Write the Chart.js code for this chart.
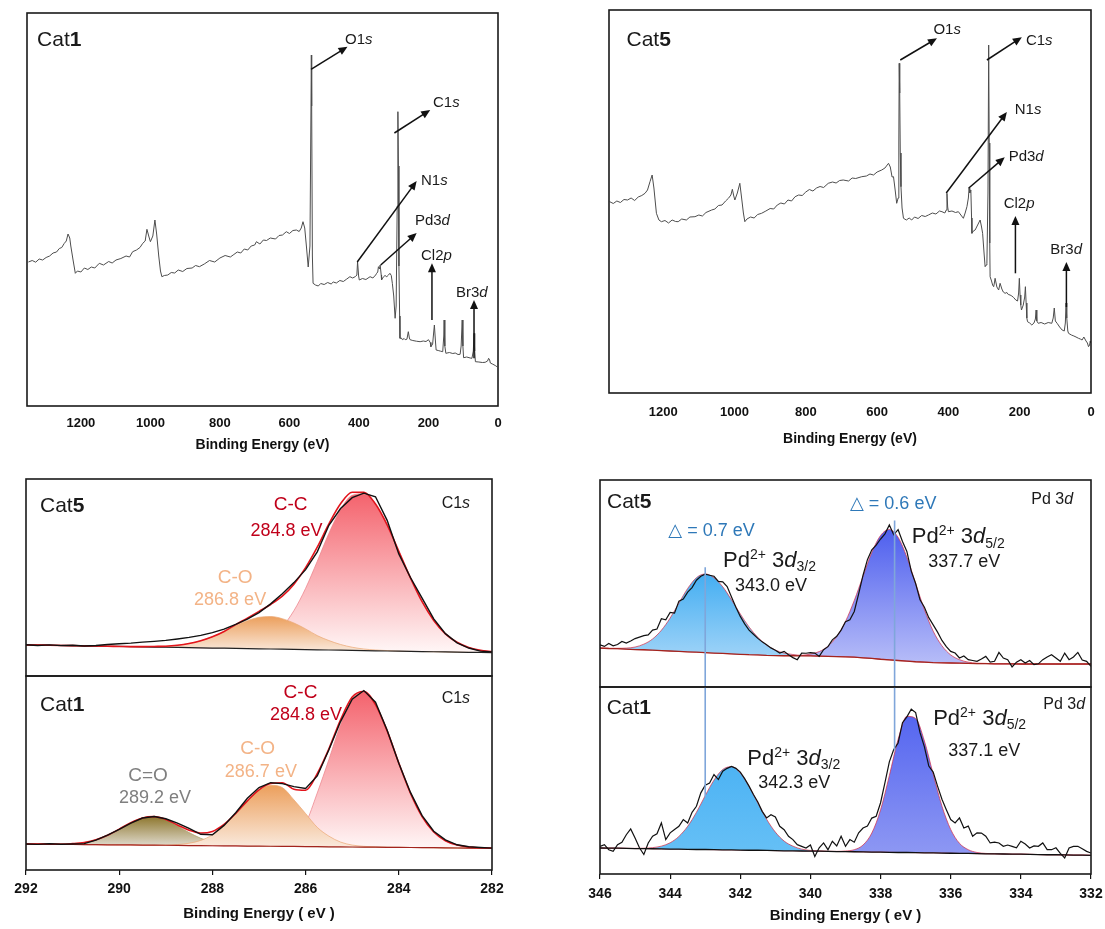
<!DOCTYPE html>
<html>
<head>
<meta charset="utf-8">
<script src="https://cdn.jsdelivr.net/npm/chart.js@4.4.1/dist/chart.umd.min.js"></script>
<style>
  html, body { margin: 0; padding: 0; background: #fff; }
  #page { position: relative; width: 1105px; height: 929px; overflow: hidden; background: #fff; }
  #page canvas { position: absolute; }
</style>
</head>
<body>
<div id="page"></div>
<script>
// ---- survey spectra (binding energy in eV, intensity in arbitrary units) ----
const surveyE1 = [1351,1340,1330,1320,1310,1300,1290,1280,1270,1262,
  1255,1248,1242,1237,1232,1229,1222,1216,1210,1200,
  1190,1180,1170,1160,1147,1135,1120,1110,1099,1085,
  1070,1060,1051,1040,1030,1022,1015,1010,1004,1000,
  993,987,982,976,971,967,960,950,940,930,
  920,907,895,880,870,859,845,830,815,800,
  785,770,762,750,740,730,720,710,700,695,
  685,675,666,655,640,630,620,609,600,590,
  580,572,566,561,556,551,546,541,538,537,
  536,534,532,525,517,510,500,490,480,474,
  465,455,445,435,426,418,410,406,404,401,
  399,390,380,368,360,352,349,346,344,341,
  339,336,335,330,325,320,315,311,307,304,
  300,296,293,290,288,286.5,285,283,282,278,
  275,270,267,262,258,255,253,245,235,224,
  215,207,200,195,193,188,186,183,180,178,
  172,165,159,156,155,153,150,140,130,123,
  115,109,106,103,101,99,90,80,75,71,
  69,67,65,55,45,37,30,27,24,22,
  15,8,3];
const surveyI1 = [144,145.5,143.8,147,146,148.5,150,153,154,157.5,
  158.5,162.5,165,172,168,160,145,132.7,135,134,
  138,136.5,139,138,142.7,141,144.5,143,146,147.5,
  150,149,154.3,156,158.5,162.7,165,176.7,169,164.3,
  170,186,172,150,135,129.3,130.5,131,133.5,133,
  136,134.5,137.5,138,140.5,139.3,142,145.5,144,148,
  150.5,149,151,154,153,157,156,160,161,164.3,
  162,166,165.5,168,167,170.5,171,174.3,172.5,175.5,
  176,174.5,178,184.3,178,159,139,160,300,351,
  300,150,122.7,121,120,122.5,121.5,123.5,122,124,
  123,125.5,124.5,127,129.3,128,129.5,131,144.3,130,
  126,127.5,126.5,129.3,128,131,132.7,134,139.3,137,
  141,131,126,129,130.5,129.3,131,132.7,130.5,122.7,
  110,87.7,100,200,294.3,240,140,90,67.7,68,
  66.3,67.5,66.3,66.8,74.3,68,66.3,65.5,64.8,64.3,
  65,64.5,66.3,63.5,59.3,62,70,81,65,56,
  55.5,54.8,54.3,70,86,60,52.7,53.5,52.5,53,
  51.5,51.7,60,86,60,48.3,49,48,47.7,55,
  72.7,55,44.3,44,43.5,43.7,45,47.7,46,43,
  41.8,40.5,39.3];

const surveyE5 = [1350,1340,1330,1320,1310,1300,1290,1280,1270,1260,
  1251,1244,1237,1231,1226,1219,1212,1205,1195,1185,
  1175,1165,1158,1148,1135,1125,1111,1100,1090,1080,
  1064,1055,1045,1035,1025,1017,1010,1006,1002,999,
  992,985,980,975,971,965,955,945,935,924,
  912,900,890,880,870,860,850,840,830,820,
  810,800,790,780,770,760,750,737,725,715,
  705,695,680,670,660,643,630,620,610,600,
  587,578,568,563,558,554,550,545,541,539,
  538,536.5,535,533,530,526,518,510,503,495,
  485,475,465,456,445,435,425,418,410,406,
  404,402,400,390,380,372,365,358,353,348,
  344,342,340,337,335,334,330,325,318,311,
  307,304,300,297,294,292,289,287,285.5,284,
  283,279,276,273,271,269,264,259,255,250,
  246,241,236,232,227,222,217,211,206,203,
  201,199,197,195,190,186,184,182,180,178,
  172,166,160,156,154,152,148,140,130,120,
  110,106,103,100,95,88,81,75,72,70,
  68,65,63,55,48,42,35,30,25,20,
  17,14,10,7,4,2,1];
const surveyI5 = [191.3,189.5,192,190.5,193.5,193,195,192.5,196,197.5,
  199.7,203,211.3,218,205,179.7,173,171.3,172.5,170,
  173,171.5,171.3,174,173,176,176.3,178,177,180.5,
  183,184,187.5,188,192,194.7,198,203.7,197,193,
  200,209.7,195,180,171.3,174,176,175,178.5,179.7,
  182,184.5,184,188,190,189,193,192,196.3,198,
  197.5,201,203.5,202,205,206.5,205.5,209.7,211,210,
  212.5,213,212,215,214.5,216.3,217,219,218,221,
  223,225,229.7,226,216,216.3,205,189.7,195,250,
  329.7,300,240,206.3,185,174.7,173,175,173,176,
  174.5,177.5,176.5,178,180,179,182,181.3,180,183,
  199.7,186,181.3,182,180.5,181.3,178,174.7,180,186.3,
  195,204.7,200,203,175,159.7,162,163,168,173,
  166,159.7,140,126.3,128,129.7,200,348,250,150,
  116.3,112,108,106.3,110,114.7,106,103,109.7,104,
  101,99.7,100.5,98.5,98,97,95.5,93,92,100,
  114.7,98,88,83,88,96,106.3,90,75,71.3,
  70,68,70,74,83,72,69.7,70.5,69,70.5,
  69.7,75,85,72,69.7,66,63,62,70,90,
  75,62,59.7,58,57,56,54.7,54,53,56,
  54,52,50,46.3,48,52,50];

// ---- C1s high resolution (0.25 eV grid) ----
const c1sE = [292,291.75,291.5,291.25,291,290.75,290.5,290.25,290,289.75,
  289.5,289.25,289,288.75,288.5,288.25,288,287.75,287.5,287.25,
  287,286.75,286.5,286.25,286,285.75,285.5,285.25,285,284.75,
  284.5,284.25,284,283.75,283.5,283.25,283,282.75,282.5,282.25,282];

// Cat5
const c1sRaw5 = [15.9,15.5,15.8,15.4,15.6,15.2,15.5,16.0,16.4,16.7,
  17.2,17.6,18.1,18.8,19.6,20.6,22.0,23.8,26.2,28.9,
  32.2,36.6,41.8,47.4,54.0,63.0,76.5,85.0,90.5,92.8,
  91.0,79.0,62.0,50.0,39.5,29.0,21.5,16.8,14.2,12.6,12.2];
const c1sFit5 = [15.8,15.7,15.6,15.5,15.4,15.3,15.2,15.1,15.0,14.9,
  14.9,15.0,15.1,15.6,16.5,17.9,19.9,22.6,26.1,29.4,
  32.8,36.3,40.5,46.6,55.0,65.4,77.2,87.4,93.3,93.2,
  87.3,76.7,63.3,49.8,37.7,28.2,21.4,17.1,14.5,13.05,12.4];
const c1sBase5 = [15.8,15.7,15.6,15.5,15.4,15.3,15.2,15.1,15.0,14.9,
  14.8,14.7,14.6,14.5,14.4,14.3,14.2,14.1,14.0,13.9,
  13.8,13.7,13.6,13.5,13.4,13.3,13.2,13.1,13.0,12.9,
  12.8,12.7,12.6,12.5,12.4,12.3,12.2,12.1,12.0,11.95,11.9];
const c1sCO5 = [15.8,15.7,15.6,15.5,15.4,15.3,15.2,15.1,15.0,14.9,
  14.9,15.0,15.1,15.6,16.5,17.9,19.9,22.4,25.6,28.1,
  29.8,30.2,29.1,26.9,23.9,20.5,18.0,16.0,14.6,13.7,
  13.2,12.9,12.6,12.5,12.4,12.3,12.2,12.1,12.0,11.95,11.9];
const c1sCC5 = [15.8,15.7,15.6,15.5,15.4,15.3,15.2,15.1,15.0,14.9,
  14.8,14.7,14.6,14.5,14.4,14.3,14.2,14.3,14.5,15.2,
  16.8,19.8,25.0,33.2,44.5,58.2,72.4,84.5,91.7,92.4,
  86.9,76.5,63.3,49.8,37.7,28.2,21.4,17.1,14.5,13.05,12.4];

// Cat1
const c1sRaw1 = [13.4,13.2,13.5,13.3,13.4,13.6,15.4,18.0,21.0,24.2,
  26.8,27.6,26.4,24.2,21.5,18.4,18.2,23.0,29.5,37.0,
  42.5,45.0,44.5,43.0,42.0,48.5,62.0,76.5,88.0,92.5,
  86.5,72.0,55.0,40.0,28.0,20.0,15.5,13.0,12.0,11.6,11.3];
const c1sFit1 = [13.4,13.35,13.3,13.25,13.6,14.2,15.55,17.9,21.05,24.4,
  26.85,27.5,26.05,23.2,20.5,19.05,19.9,23.55,29.1,35.65,
  41.3,44.55,45.0,41.65,41.1,49.7,62.45,77.4,89.15,92.0,
  85.25,71.7,55.15,39.6,27.55,19.6,15.1,12.85,11.8,11.45,11.3];
const c1sBase1 = [13.4,13.35,13.3,13.25,13.2,13.1,13.05,13.0,12.95,12.9,
  12.85,12.8,12.75,12.7,12.6,12.55,12.5,12.45,12.4,12.35,
  12.3,12.25,12.2,12.15,12.1,12.0,11.95,11.9,11.85,11.8,
  11.75,11.7,11.65,11.6,11.55,11.5,11.4,11.35,11.3,11.25,11.2];
const c1sCdO1 = [13.4,13.35,13.3,13.25,13.6,14.2,15.55,17.9,21.05,24.4,
  26.85,27.5,25.95,22.8,19.3,16.35,14.3,13.25,12.7,12.35,
  12.3,12.25,12.2,12.15,12.1,12.0,11.95,11.9,11.85,11.8,
  11.75,11.7,11.65,11.6,11.55,11.5,11.4,11.35,11.3,11.25,11.2];
const c1sCO1 = [13.4,13.35,13.3,13.25,13.2,13.1,13.05,13.0,12.95,12.9,
  12.85,12.8,12.85,13.1,13.8,15.25,18.1,22.75,28.8,35.55,
  41.0,43.65,42.5,36.15,29.1,22.0,17.45,14.4,12.85,12.2,
  11.85,11.7,11.65,11.6,11.55,11.5,11.4,11.35,11.3,11.25,11.2];
const c1sCC1 = [13.4,13.35,13.3,13.25,13.2,13.1,13.05,13.0,12.95,12.9,
  12.85,12.8,12.75,12.7,12.6,12.55,12.5,12.45,12.4,12.45,
  12.6,13.15,14.7,17.65,24.1,39.7,56.95,74.9,88.15,91.6,
  85.15,71.7,55.15,39.6,27.55,19.6,15.1,12.85,11.8,11.45,11.3];

// ---- Pd 3d high resolution: fits on a 0.25 eV grid, raw data on 0.125 eV ----
const pdE = [346,345.75,345.5,345.25,345,344.75,344.5,344.25,344,343.75,
  343.5,343.25,343,342.75,342.5,342.25,342,341.75,341.5,341.25,
  341,340.75,340.5,340.25,340,339.75,339.5,339.25,339,338.75,
  338.5,338.25,338,337.75,337.5,337.25,337,336.75,336.5,336.25,
  336,335.75,335.5,335.25,335,334.75,334.5,334.25,334,333.75,
  333.5,333.25,333,332.75,332.5,332.25,332];
const pdRawE = [346,345.875,345.75,345.625,345.5,345.375,345.25,345.125,345,344.875,
  344.75,344.625,344.5,344.375,344.25,344.125,344,343.875,343.75,343.625,
  343.5,343.375,343.25,343.125,343,342.875,342.75,342.625,342.5,342.375,
  342.25,342.125,342,341.875,341.75,341.625,341.5,341.375,341.25,341.125,
  341,340.875,340.75,340.625,340.5,340.375,340.25,340.125,340,339.875,
  339.75,339.625,339.5,339.375,339.25,339.125,339,338.875,338.75,338.625,
  338.5,338.375,338.25,338.125,338,337.875,337.75,337.625,337.5,337.375,
  337.25,337.125,337,336.875,336.75,336.625,336.5,336.375,336.25,336.125,
  336,335.875,335.75,335.625,335.5,335.375,335.25,335.125,335,334.875,
  334.75,334.625,334.5,334.375,334.25,334.125,334,333.875,333.75,333.625,
  333.5,333.375,333.25,333.125,333,332.875,332.75,332.625,332.5,332.375,
  332.25,332.125,332];

// Cat5
const pdRaw5 = [20.4,19.6,21.0,19.9,20.5,22.0,21.2,22.2,23.4,24.1,
  24.8,25.2,27.5,28.0,33.0,32.5,36.0,35.7,41.5,42.5,
  45.8,48.0,51.6,53.5,54.5,54.0,53.5,51.0,50.8,48.5,
  43.5,38.5,34.1,30.5,27.5,25.5,23.5,21.8,20.4,18.9,
  17.8,16.4,17.2,15.6,14.2,13.2,16.4,16.3,16.6,16.4,
  14.8,18.0,19.5,22.8,24.5,27.5,31.5,32.5,36.5,45.0,
  54.0,61.5,66.3,68.5,71.5,74.0,78.3,73.6,76.0,70.3,
  65.5,56.0,50.0,42.1,38.5,33.5,30.0,26.5,22.5,19.5,
  17.2,16.4,14.0,15.0,13.2,12.8,12.4,13.5,14.8,12.0,
  12.4,16.7,14.0,13.2,9.7,12.0,13.2,11.6,12.8,10.8,
  11.2,13.2,14.5,15.6,14.0,12.4,16.4,13.2,14.5,16.7,
  13.0,12.4,10.0];
const pdBase5 = [18.8,18.6,18.5,18.3,18.1,18.0,17.8,17.6,17.4,17.2,
  17.0,16.8,16.6,16.4,16.2,16.0,15.8,15.6,15.5,15.3,
  15.2,15.1,15.1,15.0,15.0,14.9,14.8,14.7,14.6,14.4,
  14.1,13.8,13.4,13.1,12.8,12.5,12.2,12.0,11.8,11.7,
  11.6,11.5,11.4,11.3,11.3,11.2,11.2,11.2,11.1,11.1,
  11.1,11.1,11.1,11.1,11.1,11.1,11.1];
const pd32Cat5 = [18.8,18.7,18.7,18.8,19.3,20.7,23.2,27.4,33.3,40.5,
  47.6,52.8,54.6,52.8,48.4,42.1,35.3,29.0,24.0,20.2,
  17.8,16.4,15.7,15.2,15.1,14.9,14.8,14.7,14.6,14.4,
  14.1,13.8,13.4,13.1,12.8,12.5,12.2,12.0,11.8,11.7,
  11.6,11.5,11.4,11.3,11.3,11.2,11.2,11.2,11.1,11.1,
  11.1,11.1,11.1,11.1,11.1,11.1,11.1];
const pd52Cat5 = [18.8,18.6,18.5,18.3,18.1,18.0,17.8,17.6,17.4,17.2,
  17.0,16.8,16.6,16.4,16.2,16.0,15.8,15.6,15.5,15.3,
  15.2,15.1,15.2,15.3,15.9,17.1,19.7,24.4,31.7,41.8,
  53.5,65.0,73.2,76.1,72.3,62.7,50.0,37.4,27.0,19.9,
  15.5,13.2,12.0,11.5,11.4,11.2,11.2,11.2,11.1,11.1,
  11.1,11.1,11.1,11.1,11.1,11.1,11.1];

// Cat1
const pdRaw1 = [14.8,15.7,13.0,12.1,15.7,17.0,21.0,24.1,19.3,14.0,
  10.4,16.6,20.2,21.5,27.3,18.4,22.0,23.8,25.5,29.1,
  27.3,33.0,36.2,43.4,47.5,48.7,53.2,50.5,55.0,56.5,
  57.5,56.5,54.5,51.0,47.0,42.5,38.5,33.5,30.0,31.7,
  30.5,25.5,23.7,20.2,18.4,15.7,14.8,13.9,15.5,9.4,
  14.0,16.6,13.0,17.5,15.0,20.2,14.8,18.4,17.0,22.0,
  24.6,25.6,29.9,30.9,38.1,48.8,60.0,66.5,70.0,80.9,
  84.0,88.1,86.3,75.6,68.0,57.7,54.5,47.0,40.0,34.4,
  29.1,27.3,30.0,24.6,25.6,20.2,22.0,21.9,20.2,16.6,
  17.0,16.6,14.8,15.5,14.8,14.0,17.5,16.0,13.9,15.0,
  14.8,16.6,13.0,13.0,14.0,11.0,8.6,13.9,14.8,14.8,
  13.5,12.1,11.2];
const pdBase1 = [13.9,13.8,13.8,13.7,13.6,13.6,13.5,13.4,13.3,13.3,
  13.2,13.1,13.1,13.0,12.9,12.9,12.8,12.7,12.7,12.6,
  12.5,12.4,12.4,12.3,12.2,12.2,12.1,12.0,12.0,11.9,
  11.8,11.7,11.7,11.6,11.5,11.5,11.4,11.3,11.3,11.2,
  11.1,11.0,11.0,10.9,10.8,10.8,10.7,10.6,10.6,10.5,
  10.4,10.3,10.3,10.2,10.1,10.1,10.0];
const pd32Cat1 = [13.9,13.8,13.8,13.7,13.7,13.8,14.1,14.9,16.7,20.1,
  25.5,33.0,41.9,50.2,55.9,57.4,54.0,46.7,37.9,29.3,
  22.4,17.6,14.9,13.3,12.6,12.3,12.1,12.0,12.0,11.9,
  11.8,11.7,11.7,11.6,11.5,11.5,11.4,11.3,11.3,11.2,
  11.1,11.0,11.0,10.9,10.8,10.8,10.7,10.6,10.6,10.5,
  10.4,10.3,10.3,10.2,10.1,10.1,10.0];
const pd52Cat1 = [13.9,13.8,13.8,13.7,13.6,13.6,13.5,13.4,13.3,13.3,
  13.2,13.1,13.1,13.0,12.9,12.9,12.8,12.7,12.7,12.6,
  12.5,12.4,12.4,12.3,12.2,12.2,12.1,12.1,12.3,13.0,
  15.5,21.9,34.3,52.6,72.0,84.3,83.2,71.1,53.4,36.3,
  23.8,16.4,13.0,11.5,11.0,10.8,10.7,10.6,10.6,10.5,
  10.4,10.3,10.3,10.2,10.1,10.1,10.0];

// shift guide lines (Cat5 peak positions) and their extent in each panel
const shiftE = [343.0, 337.6];
const shiftTopFrom = [57.9, 80.4];
const shiftBotTo = [41, 66];

const FONT = "'Liberation Sans', Arial, 'DejaVu Sans', sans-serif";
Chart.defaults.font.family = FONT;
Chart.defaults.color = '#111';

const page = document.getElementById('page');

function pts(xs, ys) {
  return xs.map((x, i) => ({ x: x, y: ys[i] }));
}

// vertical gradient from the top of a peak down to its base
function gradFill(c) {
  const chart = c.chart;
  const ds = c.dataset;
  if (!chart.chartArea || !ds.grad) return 'rgba(0,0,0,0)';
  const ys = chart.scales.y;
  const vals = ds.data.map(p => p.y);
  const g = chart.ctx.createLinearGradient(0, ys.getPixelForValue(Math.max(...vals)), 0, ys.getPixelForValue(Math.min(...vals)));
  g.addColorStop(0, ds.grad[0]);
  g.addColorStop(1, ds.grad[1]);
  return g;
}

// text with bold / italic / sup / sub parts
function drawRich(ctx, x, y, note) {
  const size = note.size;
  const segs = note.parts.map(p => {
    const kind = p[1] || 'n';
    const small = kind === 'sup' || kind === 'sub';
    const fs = small ? Math.round(size * 0.64) : size;
    const font = (kind === 'i' ? 'italic ' : '') + (kind === 'b' ? 'bold ' : '') + fs + 'px ' + FONT;
    ctx.font = font;
    return { t: p[0], font: font, w: ctx.measureText(p[0]).width, dy: kind === 'sup' ? -size * 0.36 : (kind === 'sub' ? size * 0.2 : 0) };
  });
  const total = segs.reduce((s, g) => s + g.w, 0);
  let cx = x;
  if (note.align === 'center') cx = x - total / 2;
  if (note.align === 'right') cx = x - total;
  ctx.fillStyle = note.color || '#1a1a1a';
  ctx.textBaseline = 'alphabetic';
  ctx.textAlign = 'left';
  segs.forEach(g => {
    ctx.font = g.font;
    ctx.fillText(g.t, cx, y + g.dy);
    cx += g.w;
  });
}

function drawArrow(ctx, x0, y0, x1, y1) {
  const ang = Math.atan2(y1 - y0, x1 - x0);
  const L = 9, W = 4;
  ctx.beginPath();
  ctx.moveTo(x0, y0);
  ctx.lineTo(x1 - Math.cos(ang) * L * 0.7, y1 - Math.sin(ang) * L * 0.7);
  ctx.stroke();
  ctx.beginPath();
  ctx.moveTo(x1, y1);
  ctx.lineTo(x1 - L * Math.cos(ang) + W * Math.sin(ang), y1 - L * Math.sin(ang) - W * Math.cos(ang));
  ctx.lineTo(x1 - L * Math.cos(ang) - W * Math.sin(ang), y1 - L * Math.sin(ang) + W * Math.cos(ang));
  ctx.closePath();
  ctx.fill();
}

// frame, labels and arrows of a panel
const panelDecor = {
  id: 'panelDecor',
  afterDatasetsDraw(chart, args, opts) {
    const ctx = chart.ctx;
    const a = chart.chartArea;
    const xs = chart.scales.x, ys = chart.scales.y;
    ctx.save();
    ctx.strokeStyle = '#111';
    ctx.fillStyle = '#111';
    ctx.lineWidth = 1.5;
    (opts.arrows || []).forEach(ar => {
      drawArrow(ctx, xs.getPixelForValue(ar[0]), ys.getPixelForValue(ar[1]), xs.getPixelForValue(ar[2]), ys.getPixelForValue(ar[3]));
    });
    (opts.notes || []).forEach(n => drawRich(ctx, xs.getPixelForValue(n.x), ys.getPixelForValue(n.y), n));
    ctx.strokeStyle = '#1a1a1a';
    ctx.lineWidth = 1.6;
    ctx.strokeRect(a.left, a.top, a.right - a.left, a.bottom - a.top);
    ctx.restore();
  }
};

function makePanel(box, xr, yr, datasets, decor, axis) {
  const padX = 30, padT = 10;
  const cv = document.createElement('canvas');
  cv.width = box.r - box.l + 2 * padX;
  cv.height = box.b - box.t + padT + (axis ? axis.h : 10);
  cv.style.left = (box.l - padX) + 'px';
  cv.style.top = (box.t - padT) + 'px';
  page.appendChild(cv);
  const step = axis ? axis.step : 1;
  return new Chart(cv, {
    type: 'line',
    data: { datasets: datasets },
    options: {
      responsive: false,
      animation: false,
      devicePixelRatio: 1,
      layout: { padding: { left: padX, right: padX, top: padT, bottom: axis ? 0 : 10 } },
      elements: { point: { radius: 0 } },
      plugins: { legend: { display: false }, tooltip: { enabled: false }, panelDecor: decor },
      scales: {
        x: {
          type: 'linear', reverse: true, min: xr[0], max: xr[1],
          display: !!axis,
          grid: { display: !!(axis && axis.tick), drawOnChartArea: false, tickLength: axis && axis.tick ? axis.tick : 0, color: '#111', lineWidth: 1.2 },
          border: { display: false },
          ticks: {
            stepSize: step, autoSkip: false, maxRotation: 0, padding: axis ? axis.pad : 0,
            font: { size: axis ? axis.fs : 13, weight: 'bold' }, color: '#111',
            callback: v => (Math.abs(v % step) < 1e-6 ? v : '')
          },
          title: { display: !!axis, text: axis ? axis.title : '', font: { size: axis ? axis.tfs : 14, weight: 'bold' }, color: '#111', padding: 0 },
          afterFit: s => { if (axis) s.height = axis.h; }
        },
        y: { display: false, min: yr[0], max: yr[1] }
      }
    },
    plugins: [panelDecor]
  });
}

function rawLine(xs, ys, color, w) {
  return { data: pts(xs, ys), borderColor: color, borderWidth: w, tension: 0, fill: false };
}
function fitLine(xs, ys, color, w) {
  return { data: pts(xs, ys), borderColor: color, borderWidth: w, cubicInterpolationMode: 'monotone', fill: false };
}
function peak(xs, ys, edge, grad, baseIndex) {
  return { data: pts(xs, ys), borderColor: edge, borderWidth: 0.8, cubicInterpolationMode: 'monotone',
    fill: baseIndex, grad: grad, backgroundColor: gradFill };
}
function guide(e, y0, y1) {
  return { data: [{ x: e, y: y0 }, { x: e, y: y1 }], borderColor: '#7FA6DA', borderWidth: 1.6, fill: false };
}

const surveyAxis = { step: 200, fs: 13, tfs: 14, tick: 0, title: 'Binding Energy (eV)' };

// ---- top left: Cat1 survey ----
makePanel({ l: 27, t: 13, r: 498, b: 406 }, [0, 1355], [0, 393],
  [rawLine(surveyE1, surveyI1, '#4d4d4d', 1)],
  {
    notes: [
      { x: 1326, y: 360, size: 21, align: 'left', parts: [['Cat'], ['1', 'b']] },
      { x: 440, y: 362.5, size: 15, align: 'left', parts: [['O1'], ['s', 'i']] },
      { x: 187, y: 299, size: 15, align: 'left', parts: [['C1'], ['s', 'i']] },
      { x: 221.5, y: 221, size: 15, align: 'left', parts: [['N1'], ['s', 'i']] },
      { x: 239, y: 181, size: 15, align: 'left', parts: [['Pd3'], ['d', 'i']] },
      { x: 221.5, y: 146, size: 15, align: 'left', parts: [['Cl2'], ['p', 'i']] },
      { x: 121, y: 109, size: 15, align: 'left', parts: [['Br3'], ['d', 'i']] }
    ],
    arrows: [[538, 336.7, 433, 359.3], [298, 273, 195, 296], [405, 144, 234, 225],
      [337.5, 141, 234, 173], [190, 86, 190, 142.7], [69, 47.7, 69, 106]]
  },
  Object.assign({ h: 48, pad: 10 }, surveyAxis));

// ---- top right: Cat5 survey ----
makePanel({ l: 609, t: 10, r: 1091, b: 393 }, [0, 1352], [0, 383],
  [rawLine(surveyE5, surveyI5, '#4d4d4d', 1)],
  {
    notes: [
      { x: 1303, y: 347, size: 21, align: 'left', parts: [['Cat'], ['5', 'b']] },
      { x: 442, y: 359.5, size: 15, align: 'left', parts: [['O1'], ['s', 'i']] },
      { x: 182.5, y: 348.5, size: 15, align: 'left', parts: [['C1'], ['s', 'i']] },
      { x: 214, y: 279.5, size: 15, align: 'left', parts: [['N1'], ['s', 'i']] },
      { x: 231, y: 232.5, size: 15, align: 'left', parts: [['Pd3'], ['d', 'i']] },
      { x: 245, y: 185.5, size: 15, align: 'left', parts: [['Cl2'], ['p', 'i']] },
      { x: 114, y: 139.5, size: 15, align: 'left', parts: [['Br3'], ['d', 'i']] }
    ],
    arrows: [[535, 333, 432, 354.7], [292, 333, 194, 355.7], [406, 200, 236, 281],
      [343.5, 204.7, 242, 235.7], [212, 119.7, 212, 177], [69, 86, 69, 131]]
  },
  Object.assign({ h: 55, pad: 12 }, surveyAxis));

// ---- bottom left: C1s, Cat5 (upper) and Cat1 (lower) ----
const ccGrad = ['#F4636D', '#FFF6F6'];
const coGrad = ['#EC9F5C', '#FAEBDF'];
makePanel({ l: 26, t: 479, r: 492, b: 676 }, [282, 292], [0, 100],
  [
    rawLine(c1sE, c1sRaw5, '#111', 1.4),
    fitLine(c1sE, c1sFit5, '#E3141C', 1.6),
    rawLine(c1sE, c1sBase5, '#222', 1.2),
    peak(c1sE, c1sCO5, 'rgba(236,168,118,0.9)', coGrad, 2),
    peak(c1sE, c1sCC5, 'rgba(236,130,138,0.9)', ccGrad, 2)
  ],
  {
    notes: [
      { x: 291.7, y: 83, size: 21, align: 'left', parts: [['Cat'], ['5', 'b']] },
      { x: 282.47, y: 85.3, size: 16, align: 'right', parts: [['C1'], ['s', 'i']] },
      { x: 286.32, y: 84.3, size: 19, align: 'center', color: '#C0001A', parts: [['C-C']] },
      { x: 286.41, y: 71.1, size: 18, align: 'center', color: '#C0001A', parts: [['284.8 eV']] },
      { x: 287.51, y: 47, size: 19, align: 'center', color: '#F3B386', parts: [['C-O']] },
      { x: 287.62, y: 36, size: 18, align: 'center', color: '#F3B386', parts: [['286.8 eV']] }
    ]
  }, null);

makePanel({ l: 26, t: 676, r: 492, b: 870 }, [282, 292], [0, 100],
  [
    rawLine(c1sE, c1sRaw1, '#111', 1.4),
    fitLine(c1sE, c1sFit1, '#E3141C', 1.6),
    rawLine(c1sE, c1sBase1, '#A3241E', 1.2),
    peak(c1sE, c1sCO1, 'rgba(236,168,118,0.9)', coGrad, 2),
    peak(c1sE, c1sCdO1, 'rgba(176,160,110,0.9)', ['#8E772E', '#E6E2DA'], 2),
    peak(c1sE, c1sCC1, 'rgba(236,130,138,0.9)', ccGrad, 2)
  ],
  {
    notes: [
      { x: 291.7, y: 82, size: 21, align: 'left', parts: [['Cat'], ['1', 'b']] },
      { x: 282.47, y: 86.3, size: 16, align: 'right', parts: [['C1'], ['s', 'i']] },
      { x: 286.11, y: 88.9, size: 19, align: 'center', color: '#C0001A', parts: [['C-C']] },
      { x: 285.99, y: 77.3, size: 18, align: 'center', color: '#C0001A', parts: [['284.8 eV']] },
      { x: 287.03, y: 60, size: 19, align: 'center', color: '#F3B386', parts: [['C-O']] },
      { x: 286.96, y: 47.7, size: 18, align: 'center', color: '#F3B386', parts: [['286.7 eV']] },
      { x: 289.38, y: 45.9, size: 19, align: 'center', color: '#7F7F7F', parts: [['C=O']] },
      { x: 289.23, y: 34.3, size: 18, align: 'center', color: '#7F7F7F', parts: [['289.2 eV']] }
    ]
  },
  { h: 53, pad: 6, step: 2, fs: 14, tfs: 15, tick: 5, title: 'Binding Energy ( eV )' });

// ---- bottom right: Pd 3d, Cat5 (upper) and Cat1 (lower) ----
const pdEdge = 'rgba(214,48,72,0.9)';
makePanel({ l: 600, t: 480, r: 1091, b: 687 }, [332, 346], [0, 100],
  [
    guide(shiftE[0], shiftTopFrom[0], 0),
    guide(shiftE[1], shiftTopFrom[1], 0),
    rawLine(pdRawE, pdRaw5, '#111', 1.2),
    rawLine(pdE, pdBase5, '#A3241E', 1.3),
    peak(pdE, pd32Cat5, pdEdge, ['#44AEF2', '#A6D6F8'], 3),
    peak(pdE, pd52Cat5, pdEdge, ['#4E5FEE', '#B7BDF8'], 3)
  ],
  {
    notes: [
      { x: 345.8, y: 86.5, size: 21, align: 'left', parts: [['Cat'], ['5', 'b']] },
      { x: 332.51, y: 88.4, size: 16, align: 'right', parts: [['Pd 3'], ['d', 'i']] },
      { x: 342.82, y: 73, size: 18, align: 'center', color: '#2E78B8', parts: [['\u25B3 = 0.7 eV']] },
      { x: 337.64, y: 85.8, size: 18, align: 'center', color: '#2E78B8', parts: [['\u25B3 = 0.6 eV']] },
      { x: 342.49, y: 58.2, size: 22, align: 'left', parts: [['Pd'], ['2+', 'sup'], [' 3'], ['d', 'i'], ['3/2', 'sub']] },
      { x: 342.15, y: 46.6, size: 18, align: 'left', parts: [['343.0 eV']] },
      { x: 337.11, y: 69.5, size: 22, align: 'left', parts: [['Pd'], ['2+', 'sup'], [' 3'], ['d', 'i'], ['5/2', 'sub']] },
      { x: 336.64, y: 58.2, size: 18, align: 'left', parts: [['337.7 eV']] }
    ]
  }, null);

makePanel({ l: 600, t: 687, r: 1091, b: 874 }, [332, 346], [0, 100],
  [
    guide(shiftE[0], 100, shiftBotTo[0]),
    guide(shiftE[1], 100, shiftBotTo[1]),
    rawLine(pdRawE, pdRaw1, '#111', 1.2),
    rawLine(pdE, pdBase1, '#111', 1.3),
    peak(pdE, pd32Cat1, pdEdge, ['#4DB3F4', '#66C0F6'], 3),
    peak(pdE, pd52Cat1, pdEdge, ['#5566F0', '#8E98F3'], 3)
  ],
  {
    notes: [
      { x: 345.81, y: 85.5, size: 21, align: 'left', parts: [['Cat'], ['1', 'b']] },
      { x: 332.17, y: 88.4, size: 16, align: 'right', parts: [['Pd 3'], ['d', 'i']] },
      { x: 336.5, y: 79.8, size: 22, align: 'left', parts: [['Pd'], ['2+', 'sup'], [' 3'], ['d', 'i'], ['5/2', 'sub']] },
      { x: 336.07, y: 62.9, size: 18, align: 'left', parts: [['337.1 eV']] },
      { x: 341.8, y: 58.4, size: 22, align: 'left', parts: [['Pd'], ['2+', 'sup'], [' 3'], ['d', 'i'], ['3/2', 'sub']] },
      { x: 341.49, y: 46, size: 18, align: 'left', parts: [['342.3 eV']] }
    ]
  },
  { h: 51, pad: 7, step: 2, fs: 14, tfs: 15, tick: 5, title: 'Binding Energy ( eV )' });
</script>
</body>
</html>
